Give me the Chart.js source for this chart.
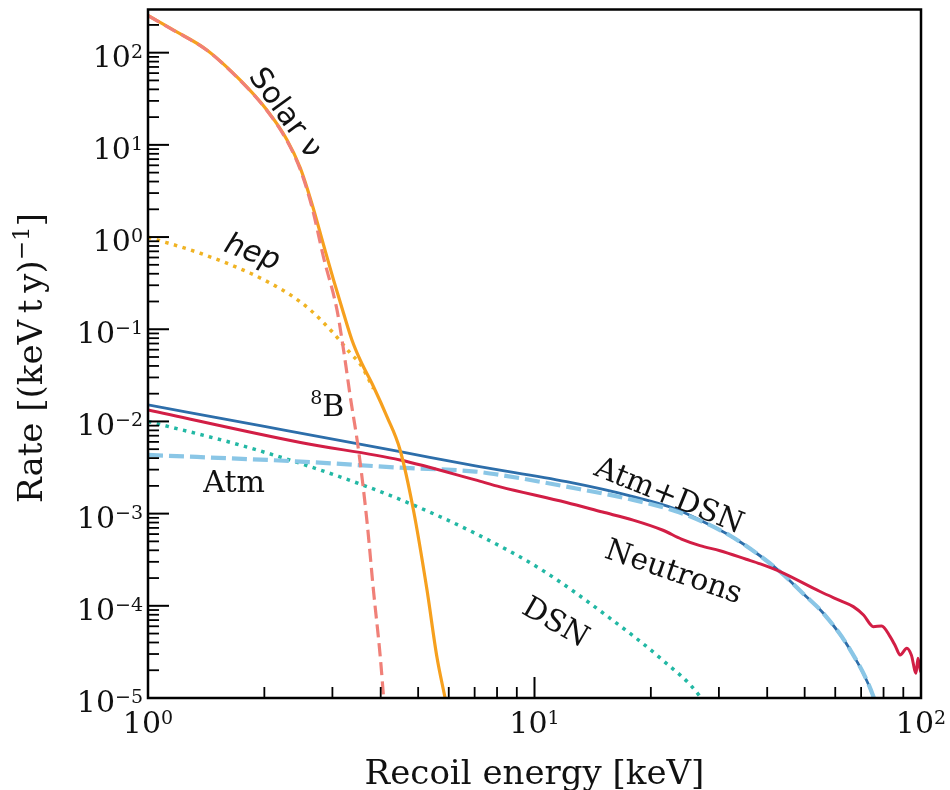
<!DOCTYPE html>
<html>
<head>
<meta charset="utf-8">
<title>Recoil spectra</title>
<script src="https://cdn.jsdelivr.net/npm/chart.js@4.4.1/dist/chart.umd.min.js"></script>
<style>
  html, body { margin: 0; padding: 0; background: #fff; }
  #wrap { width: 950px; height: 790px; }
</style>
</head>
<body>
<div id="wrap"><canvas id="rateChart" width="950" height="790"></canvas></div>
<script>
// values: recoil energy [keV] and rate [(keV t y)^-1]
const solarE    = [1.0, 1.165, 1.42, 1.73, 2.03, 2.29, 2.477, 2.661, 2.846, 3.02, 3.206, 3.37, 3.54, 3.833, 4.152, 4.49, 4.86, 5.27, 5.59, 5.87];
const solarRate = [253, 176, 107, 50.6, 23.9, 11.3, 5.62, 2.23, 0.821, 0.343, 0.149, 0.0766, 0.0464, 0.0238, 0.01127, 0.0049, 0.0011, 1.49e-4, 2.8e-5, 1.0e-5];

const b8E    = [1.0, 1.165, 1.42, 1.73, 2.03, 2.29, 2.477, 2.661, 2.846, 3.083, 3.206, 3.337, 3.505, 3.69, 3.83, 3.99, 4.07];
const b8Rate = [252, 175, 106.3, 50.1, 23.6, 11.0, 5.4, 2.05, 0.6, 0.162, 0.0596, 0.0186, 0.00491, 7.9e-4, 1.49e-4, 2.8e-5, 1.0e-5];

const hepE    = [1.0, 1.365, 1.84, 2.2, 2.335, 2.63, 3.02, 3.337, 3.54, 3.833];
const hepRate = [1.0, 0.667, 0.405, 0.275, 0.236, 0.162, 0.0905, 0.055, 0.042, 0.0226];

const atmDsnE    = [1.0, 2.0, 4.49, 7.03, 12.1, 18.0, 23.1, 26.8, 32.1, 38.4, 43.2, 49.5, 55.9, 65.6, 75.3, 77.0];
const atmDsnRate = [0.0151, 0.00883, 0.0047, 0.00329, 0.00222, 0.00153, 0.00113, 8.5e-4, 5.75e-4, 3.47e-4, 2.34e-4, 1.36e-4, 8.3e-5, 3.33e-5, 1.04e-5, 7.5e-6];

const atmE    = [1.0, 2.48, 4.49, 7.03, 8.15, 12.1, 18.0, 23.1, 26.8, 32.1, 38.4, 43.2, 49.5, 55.9, 65.6, 75.3, 77.0];
const atmRate = [0.00433, 0.00367, 0.00315, 0.00286, 0.00263, 0.00196, 0.00141, 0.00107, 8.4e-4, 5.75e-4, 3.47e-4, 2.34e-4, 1.36e-4, 8.3e-5, 3.33e-5, 1.04e-5, 7.5e-6];

const dsnE    = [1.0, 1.665, 2.48, 3.69, 4.86, 7.03, 10.45, 15.5, 21.4, 26.6, 28.0];
const dsnRate = [0.0100, 0.0058, 0.0035, 0.00196, 0.00124, 6.1e-4, 2.45e-4, 7.6e-5, 2.6e-5, 1.08e-5, 7.5e-6];

const neutronE    = [1.0, 2.48, 4.49, 7.03, 8.15, 12.1, 15.0, 18.0, 21.5, 24.0, 26.8, 30.2, 35.3, 38.4, 43.2, 54.8, 62.0, 66.8, 71.0, 75.3, 79.1, 83.2, 86.0, 88.3, 91.9, 94.4, 97.1, 98.2, 99.6, 100];
const neutronRate = [0.0133, 0.0059, 0.00382, 0.00232, 0.00195, 0.00132, 0.00104, 8.5e-4, 6.6e-4, 5.3e-4, 4.5e-4, 3.95e-4, 3.2e-4, 2.85e-4, 2.35e-4, 1.43e-4, 1.13e-4, 9.8e-5, 7.96e-5, 5.94e-5, 6.05e-5, 4.63e-5, 3.6e-5, 2.93e-5, 3.47e-5, 2.93e-5, 1.86e-5, 2.7e-5, 2.0e-5, 1.9e-5];

// axis ticks (powers of ten)
const xTickExp = [0, 1, 2];
const yTickExp = [-5, -4, -3, -2, -1, 0, 1, 2];
const yMax = 294;

const serif = '"DejaVu Serif", "Liberation Serif", serif';
const sans = '"DejaVu Sans", "Liberation Sans", sans-serif';

const pts = (xs, ys) => xs.map((x, i) => ({x: x, y: ys[i]}));

// text helpers: a label is a list of segments, some raised as superscripts
function segWidth(ctx, segs) {
  let w = 0;
  segs.forEach(s => { ctx.font = s.font; w += ctx.measureText(s.t).width; });
  return w;
}
function drawSegs(ctx, segs, x, y) {
  segs.forEach(s => {
    ctx.font = s.font;
    ctx.fillText(s.t, x, y - (s.rise || 0));
    x += ctx.measureText(s.t).width;
  });
}
function powLabel(e) {
  return [
    {t: '10', font: '30px ' + serif},
    {t: e < 0 ? '\u2212' + (-e) : String(e), font: '19px ' + serif, rise: 9}
  ];
}

// curve annotations, anchored in data coordinates
const notes = [
  {segs: [{t: 'Solar \u03bd', font: '30px ' + sans}], e: 2.29, r: 22.9, angle: 54},
  {segs: [{t: 'hep', font: 'italic 30px ' + sans}], e: 1.87, r: 0.72, angle: 20},
  {segs: [{t: '8', font: '19px ' + serif, rise: 12}, {t: 'B', font: '30px ' + serif}], e: 2.91, r: 0.015, angle: 0},
  {segs: [{t: 'Atm', font: '30px ' + serif}], e: 1.67, r: 0.00226, angle: 0},
  {segs: [{t: 'Atm+DSN', font: '30px ' + serif}], e: 22.4, r: 0.00164, angle: 22},
  {segs: [{t: 'Neutrons', font: '30px ' + serif}], e: 23.0, r: 2.45e-4, angle: 19},
  {segs: [{t: 'DSN', font: '30px ' + serif}], e: 11.4, r: 6.9e-5, angle: 30}
];

const axesPlugin = {
  id: 'axesPlugin',
  afterDraw(chart) {
    const ctx = chart.ctx;
    const a = chart.chartArea;
    const xs = chart.scales.x, ys = chart.scales.y;
    ctx.save();
    ctx.fillStyle = '#111';
    ctx.strokeStyle = '#000';

    // annotations
    ctx.textBaseline = 'alphabetic';
    notes.forEach(n => {
      const px = xs.getPixelForValue(n.e), py = ys.getPixelForValue(n.r);
      ctx.save();
      ctx.translate(px, py);
      ctx.rotate(n.angle * Math.PI / 180);
      const w = segWidth(ctx, n.segs);
      drawSegs(ctx, n.segs, -w / 2, 11);
      ctx.restore();
    });

    // frame
    ctx.lineWidth = 2.5;
    ctx.strokeRect(a.left, a.top, a.right - a.left, a.bottom - a.top);

    // inward ticks
    const tick = (x1, y1, x2, y2, lw) => {
      ctx.lineWidth = lw;
      ctx.beginPath(); ctx.moveTo(x1, y1); ctx.lineTo(x2, y2); ctx.stroke();
    };
    for (let e = xTickExp[0]; e < xTickExp[xTickExp.length - 1]; e++) {
      for (let m = 2; m <= 9; m++) {
        const px = xs.getPixelForValue(m * Math.pow(10, e));
        tick(px, a.bottom, px, a.bottom - 11, 1.8);
      }
    }
    xTickExp.forEach(e => {
      const px = xs.getPixelForValue(Math.pow(10, e));
      tick(px, a.bottom, px, a.bottom - 21, 2);
    });
    yTickExp.forEach(e => {
      for (let m = 2; m <= 9; m++) {
        const v = m * Math.pow(10, e);
        if (v > yMax) break;
        const py = ys.getPixelForValue(v);
        tick(a.left, py, a.left + 11, py, 1.8);
      }
      const py = ys.getPixelForValue(Math.pow(10, e));
      tick(a.left, py, a.left + 21, py, 2);
    });

    // tick labels
    xTickExp.forEach(e => {
      const segs = powLabel(e);
      const px = xs.getPixelForValue(Math.pow(10, e));
      drawSegs(ctx, segs, px - segWidth(ctx, segs) / 2, a.bottom + 35);
    });
    yTickExp.forEach(e => {
      const segs = powLabel(e);
      const py = ys.getPixelForValue(Math.pow(10, e));
      drawSegs(ctx, segs, a.left - 5 - segWidth(ctx, segs), py + 14);
    });

    // axis titles
    const xTitle = [{t: 'Recoil energy [keV]', font: '34px ' + serif}];
    drawSegs(ctx, xTitle, (a.left + a.right) / 2 - segWidth(ctx, xTitle) / 2, 784);

    const yTitle = [
      {t: 'Rate [(keV\u2009t\u2009y)', font: '34px ' + serif},
      {t: '\u22121', font: '23px ' + serif, rise: 13},
      {t: ']', font: '34px ' + serif}
    ];
    ctx.save();
    ctx.translate(42, 358);
    ctx.rotate(-Math.PI / 2);
    drawSegs(ctx, yTitle, -segWidth(ctx, yTitle) / 2, 0);
    ctx.restore();

    ctx.restore();
  }
};

const line = (label, xs, ys, color, width, order, dash) => ({
  label: label,
  data: pts(xs, ys),
  borderColor: color,
  borderWidth: width,
  borderDash: dash || [],
  borderCapStyle: 'butt',
  pointRadius: 0,
  fill: false,
  cubicInterpolationMode: 'monotone',
  order: order
});

new Chart(document.getElementById('rateChart'), {
  type: 'line',
  data: {
    datasets: [
      line('8B', b8E, b8Rate, '#f08078', 3.2, 0, [13, 6]),
      line('Solar', solarE, solarRate, '#f6a01e', 3.2, 1),
      line('Neutrons', neutronE, neutronRate, '#d21e45', 3, 2),
      line('Atm', atmE, atmRate, '#8ac6e6', 4.2, 3, [15, 6]),
      line('Atm+DSN', atmDsnE, atmDsnRate, '#2d6eaa', 2.8, 4),
      line('hep', hepE, hepRate, '#f0b323', 3.5, 5, [3.5, 5.5]),
      line('DSN', dsnE, dsnRate, '#22b8a4', 3.5, 6, [3.5, 5.5])
    ]
  },
  options: {
    responsive: false,
    devicePixelRatio: 1,
    animation: false,
    layout: {padding: {left: 148, right: 29, top: 9.5, bottom: 92}},
    plugins: {legend: {display: false}, tooltip: {enabled: false}},
    scales: {
      x: {type: 'logarithmic', min: 1, max: 100, display: false},
      y: {type: 'logarithmic', min: 1e-5, max: yMax, display: false}
    }
  },
  plugins: [axesPlugin]
});
</script>
</body>
</html>
